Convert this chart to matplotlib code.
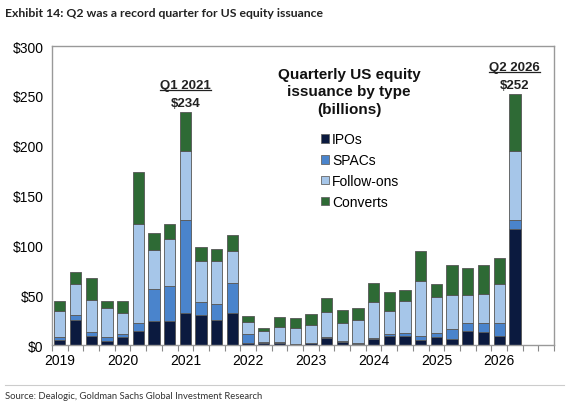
import numpy as np
import matplotlib
matplotlib.use("Agg")
import matplotlib.pyplot as plt
from matplotlib.patches import Patch

plt.rcParams['font.family'] = ['Liberation Sans', 'DejaVu Sans']

# quarterly US equity issuance, $bn, 2019Q1 .. 2026Q2
quarters = [f"{y}Q{q}" for y in range(2019, 2027) for q in range(1, 5)][:30]
ipos = [5, 25, 9, 4, 8, 14, 24, 24, 32, 30, 25, 32, 2.5, 2, 2, 1, 2, 7, 3, 1.5,
        6, 9, 9, 5, 8, 6, 14, 13, 9.5, 116]
spacs = [3.5, 5, 4, 4, 3.5, 8, 32, 35, 93.5, 13, 16.5, 30, 8.5, 1.5, 1, 0.5, 0.5, 1, 1, 0.5,
         1, 2, 3.5, 4, 4, 10, 8, 9, 12.5, 10]
follow_ons = [26, 31, 32, 29, 20.5, 99.5, 39, 47, 69.5, 41, 42.5, 32, 12, 11, 15, 16, 17.5, 25, 18, 23,
              36, 23.5, 31.5, 55.5, 36, 34.5, 28, 29, 39.5, 68.5]
converts = [10, 12.5, 22, 7.5, 12.5, 52.5, 17, 15.5, 39, 14, 12, 16, 6.5, 3, 10.5, 10, 11.5, 14, 13.5, 12,
            19.5, 18.5, 11.5, 29.5, 13.5, 29.5, 27.5, 29.5, 25.5, 57.5]
year_labels = ['2019', '2020', '2021', '2022', '2023', '2024', '2025', '2026']

series = [('IPOs', ipos, '#0b1a3f'),
          ('SPACs', spacs, '#4a84cc'),
          ('Follow-ons', follow_ons, '#a6c6e9'),
          ('Converts', converts, '#2e6a35')]

fig = plt.figure(figsize=(5.68, 4.10), dpi=100)
ax = fig.add_axes([0.0915, 0.156, 0.884, 0.729])

x = np.arange(len(quarters))
bottom = np.zeros(len(quarters))
for name, vals, col in series:
    vals = np.array(vals)
    ax.bar(x, vals, 0.72, bottom=bottom, color=col, edgecolor='#555555', linewidth=0.6, label=name)
    bottom += vals

ax.set_xlim(-0.5, 31.5)
ax.set_ylim(0, 300)
ax.set_yticks(range(0, 301, 50))
ax.set_yticklabels(['$' + str(v) for v in range(0, 301, 50)], fontsize=10)
ax.tick_params(axis='y', length=0, pad=6)

ax.set_xticks(np.arange(0, 30, 4))
ax.set_xticklabels(year_labels, fontsize=10)
ax.set_xticks(np.arange(-0.5, 32, 1), minor=True)
ax.tick_params(axis='x', which='major', length=0, pad=6)
ax.tick_params(axis='x', which='minor', length=4, color='#888888', width=0.8)
for s in ax.spines.values():
    s.set_color('#999999')
    s.set_linewidth(1.0)

# peak annotations
fig.canvas.draw()
renderer = fig.canvas.get_renderer()
for i, lab in [(8, 'Q1 2021'), (29, 'Q2 2026')]:
    tot = bottom[i]
    t1 = ax.annotate(lab, (i, tot), xytext=(0, 15), textcoords='offset points',
                     ha='center', va='bottom', fontsize=9.5, fontweight='bold', color='#222222')
    ax.annotate('$%d' % round(tot), (i, tot), xytext=(0, 2), textcoords='offset points',
                ha='center', va='bottom', fontsize=9.5, fontweight='bold', color='#222222')
    bb = t1.get_window_extent(renderer).transformed(fig.transFigure.inverted())
    fig.add_artist(plt.Line2D([bb.x0, bb.x1], [bb.y0 + 0.002, bb.y0 + 0.002],
                              color='#222222', lw=0.9, transform=fig.transFigure))

ax.text(0.592, 0.93, 'Quarterly US equity\nissuance by type\n(billions)', transform=ax.transAxes,
        ha='center', va='top', fontsize=11, fontweight='bold', linespacing=1.3, color='#111111')
handles = [Patch(facecolor=c, edgecolor='#666666', linewidth=0.6, label=n) for n, _, c in series]
ax.legend(handles=handles, loc='upper left', bbox_to_anchor=(0.522, 0.735), frameon=False,
          fontsize=10, handlelength=0.55, handleheight=0.55, handletextpad=0.25,
          labelspacing=0.5, borderpad=0)

fig.text(0.009, 0.968, 'Exhibit 14: Q2 was a record quarter for US equity issuance',
         fontsize=8.8, fontweight='bold', family=['Lato', 'DejaVu Sans'], color='#222222', va='center')
fig.add_artist(plt.Line2D([0.009, 0.993], [0.058, 0.058], color='#cccccc', lw=0.8,
                          transform=fig.transFigure))
fig.text(0.009, 0.033, 'Source: Dealogic, Goldman Sachs Global Investment Research',
         fontsize=6.8, family=['Lato', 'DejaVu Sans'], color='#333333', va='center')

fig.savefig('out.png', dpi=100)
